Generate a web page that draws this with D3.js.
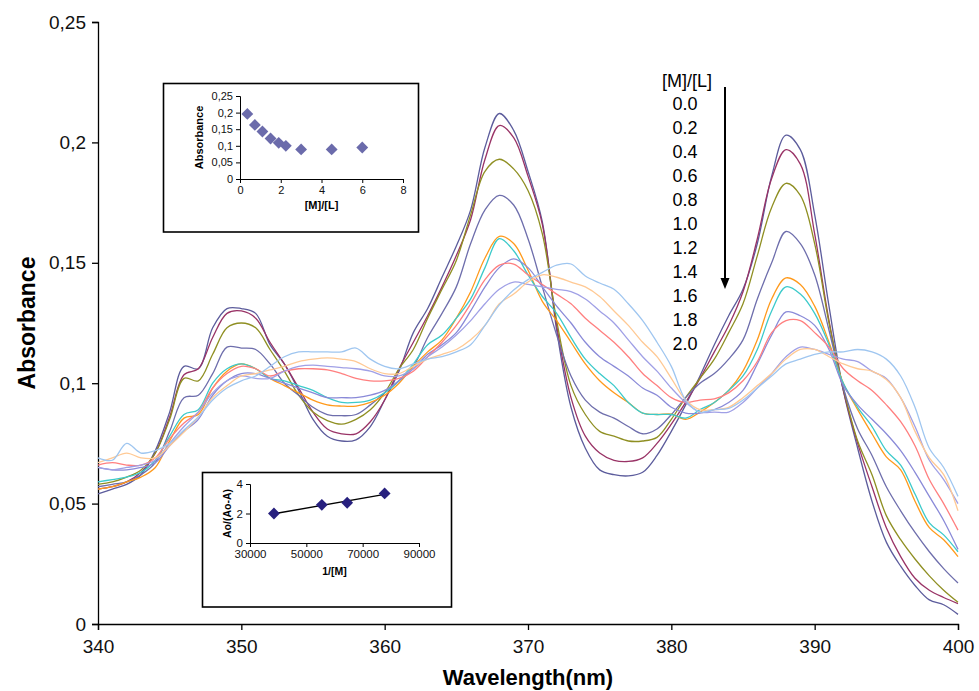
<!DOCTYPE html>
<html>
<head>
<meta charset="utf-8">
<script src="https://cdn.jsdelivr.net/npm/d3@7"></script>
<style>
  body { margin: 0; background: #fff; }
  svg { display: block; font-family: "Liberation Sans", Arial, sans-serif; }
</style>
</head>
<body>
<svg id="chart"></svg>
<script>
// wavelength grid (nm)
const wavelength = [340,341,342,343,344,345,346,347,348,349,350,351,352,353,354,355,356,357,358,359,
  360,361,362,363,364,365,366,367,368,369,370,371,372,373,374,375,376,377,378,379,
  380,381,382,383,384,385,386,387,388,389,390,391,392,393,394,395,396,397,398,399,400]

// absorbance per [M]/[L] ratio
const abs00 = [0.054,0.056,0.058,0.062,0.072,0.088,0.107,0.106,0.123,0.131,0.131,0.129,0.116,0.108,0.097,0.085,0.078,0.076,0.0765,0.082,
  0.093,0.105,0.121,0.131,0.144,0.157,0.172,0.198,0.212,0.205,0.188,0.167,0.122,0.090,0.073,0.064,0.062,0.0615,0.063,0.070,
  0.080,0.091,0.103,0.116,0.128,0.139,0.158,0.186,0.203,0.197,0.170,0.132,0.097,0.073,0.051,0.034,0.024,0.016,0.010,0.008,0.004]
const abs02 = [0.056,0.057,0.059,0.063,0.071,0.086,0.1035,0.106,0.119,0.129,0.130,0.127,0.117,0.108,0.098,0.088,0.081,0.079,0.079,0.084,
  0.093,0.106,0.117,0.128,0.140,0.153,0.168,0.193,0.207,0.202,0.186,0.166,0.124,0.094,0.078,0.071,0.068,0.0675,0.069,0.075,
  0.083,0.092,0.102,0.113,0.124,0.138,0.160,0.185,0.197,0.191,0.162,0.126,0.097,0.075,0.057,0.040,0.028,0.019,0.014,0.011,0.0085]
const abs04 = [0.058,0.059,0.061,0.064,0.071,0.085,0.102,0.101,0.112,0.123,0.125,0.123,0.114,0.105,0.095,0.088,0.0845,0.083,0.085,0.089,
  0.096,0.106,0.114,0.127,0.139,0.151,0.170,0.188,0.193,0.189,0.180,0.162,0.126,0.099,0.087,0.080,0.078,0.076,0.076,0.0775,
  0.085,0.094,0.102,0.110,0.121,0.133,0.153,0.173,0.183,0.178,0.158,0.125,0.098,0.076,0.062,0.045,0.035,0.027,0.020,0.014,0.009]
const abs06 = [0.057,0.058,0.059,0.062,0.067,0.080,0.094,0.095,0.104,0.115,0.1146,0.114,0.108,0.100,0.095,0.090,0.087,0.0865,0.087,0.091,
  0.096,0.101,0.107,0.119,0.129,0.140,0.158,0.172,0.178,0.174,0.160,0.140,0.120,0.103,0.093,0.088,0.0855,0.082,0.079,0.081,
  0.087,0.094,0.100,0.104,0.110,0.118,0.135,0.150,0.163,0.158,0.145,0.122,0.098,0.081,0.070,0.057,0.047,0.038,0.030,0.023,0.017]
const abs08 = [0.056,0.057,0.059,0.061,0.065,0.076,0.0855,0.087,0.098,0.105,0.108,0.106,0.102,0.099,0.096,0.093,0.091,0.0905,0.0905,0.092,
  0.095,0.100,0.107,0.113,0.118,0.127,0.138,0.152,0.161,0.158,0.147,0.134,0.126,0.117,0.108,0.101,0.096,0.092,0.0876,0.087,
  0.0872,0.085,0.088,0.092,0.097,0.105,0.118,0.135,0.1437,0.141,0.132,0.117,0.100,0.089,0.079,0.0694,0.064,0.051,0.040,0.035,0.028]
const abs10 = [0.059,0.060,0.061,0.063,0.068,0.078,0.087,0.089,0.100,0.106,0.108,0.106,0.102,0.101,0.099,0.097,0.094,0.092,0.092,0.093,
  0.096,0.101,0.108,0.116,0.120,0.127,0.135,0.148,0.160,0.155,0.145,0.136,0.129,0.119,0.110,0.104,0.099,0.092,0.0876,0.087,
  0.087,0.0855,0.089,0.092,0.097,0.103,0.114,0.130,0.140,0.137,0.129,0.116,0.100,0.090,0.082,0.072,0.066,0.054,0.042,0.037,0.030]
const abs12 = [0.065,0.064,0.064,0.065,0.067,0.074,0.080,0.085,0.095,0.101,0.104,0.104,0.102,0.100,0.098,0.096,0.094,0.094,0.094,0.095,
  0.097,0.101,0.106,0.112,0.116,0.121,0.130,0.140,0.148,0.1516,0.148,0.140,0.132,0.125,0.117,0.111,0.107,0.103,0.098,0.095,
  0.090,0.0876,0.0876,0.089,0.092,0.097,0.108,0.120,0.1296,0.128,0.124,0.114,0.099,0.091,0.085,0.079,0.072,0.063,0.053,0.043,0.031]
const abs14 = [0.066,0.067,0.066,0.066,0.069,0.077,0.0835,0.088,0.098,0.104,0.107,0.106,0.103,0.105,0.106,0.106,0.1055,0.104,0.102,0.101,
  0.101,0.102,0.105,0.111,0.117,0.124,0.133,0.143,0.149,0.1495,0.145,0.141,0.137,0.133,0.127,0.122,0.117,0.111,0.104,0.099,
  0.094,0.092,0.093,0.0935,0.096,0.101,0.109,0.121,0.126,0.126,0.121,0.115,0.106,0.101,0.097,0.091,0.084,0.074,0.060,0.050,0.039]
const abs16 = [0.065,0.064,0.065,0.066,0.068,0.075,0.082,0.088,0.096,0.101,0.103,0.102,0.102,0.105,0.107,0.1075,0.107,0.1065,0.106,0.105,
  0.103,0.103,0.106,0.111,0.115,0.120,0.126,0.133,0.139,0.142,0.141,0.140,0.139,0.138,0.135,0.130,0.125,0.118,0.111,0.105,
  0.098,0.092,0.088,0.088,0.088,0.092,0.098,0.104,0.111,0.115,0.114,0.112,0.110,0.109,0.105,0.102,0.094,0.082,0.068,0.060,0.050]
const abs18 = [0.067,0.069,0.071,0.069,0.069,0.074,0.0797,0.086,0.094,0.099,0.103,0.104,0.1055,0.107,0.109,0.110,0.1105,0.110,0.109,0.106,
  0.104,0.104,0.107,0.110,0.112,0.114,0.118,0.124,0.133,0.137,0.142,0.145,0.144,0.142,0.140,0.136,0.130,0.124,0.117,0.111,
  0.102,0.093,0.089,0.089,0.090,0.094,0.099,0.104,0.110,0.114,0.114,0.111,0.108,0.106,0.105,0.1015,0.094,0.080,0.069,0.062,0.047]
const abs20 = [0.069,0.068,0.075,0.071,0.072,0.075,0.0806,0.086,0.093,0.098,0.101,0.103,0.107,0.111,0.113,0.113,0.113,0.113,0.1146,0.110,
  0.107,0.106,0.108,0.110,0.111,0.113,0.116,0.124,0.1325,0.1387,0.143,0.146,0.149,0.1495,0.1445,0.1416,0.139,0.133,0.126,0.117,
  0.107,0.093,0.088,0.089,0.0895,0.093,0.098,0.103,0.108,0.110,0.112,0.113,0.113,0.114,0.113,0.110,0.103,0.090,0.073,0.065,0.053]

const ratioLabels = ["0.0","0.2","0.4","0.6","0.8","1.0","1.2","1.4","1.6","1.8","2.0"]
const seriesColors = ["#5c5c9c","#993366","#8f8f22","#6e6eac","#ff9a1c","#3ccaca","#8a8ad8","#ff7f7f","#a0a0e6","#ffc994","#9fc6f0"]
const yTicks = [0, 0.05, 0.1, 0.15, 0.2, 0.25]
const xTicks = [340, 350, 360, 370, 380, 390, 400]

// inset 1: absorbance vs [M]/[L]
const insetRatio = [0.36, 0.73, 1.1, 1.5, 1.9, 2.25, 3.0, 4.5, 6.0]
const insetAbs = [0.196, 0.163, 0.143, 0.122, 0.109, 0.100, 0.089, 0.089, 0.095]
// inset 2: Ao/(Ao-A) vs 1/[M]
const invM = [38500, 55500, 64500, 77800]
const aoRatio = [2.0, 2.59, 2.73, 3.36]

const series = [abs00, abs02, abs04, abs06, abs08, abs10, abs12, abs14, abs16, abs18, abs20]
  .map((values, i) => ({
    label: ratioLabels[i],
    color: seriesColors[i],
    points: values.map((v, j) => ({ w: wavelength[j], a: v })),
  }))

const dimensions = {
  width: 979,
  height: 691,
  margin: { top: 22, right: 21, bottom: 67, left: 98 },
}
dimensions.boundedWidth = dimensions.width - dimensions.margin.left - dimensions.margin.right
dimensions.boundedHeight = dimensions.height - dimensions.margin.top - dimensions.margin.bottom

const svg = d3.select("#chart")
  .attr("width", dimensions.width)
  .attr("height", dimensions.height)

const bounds = svg.append("g")
  .attr("transform", `translate(${dimensions.margin.left},${dimensions.margin.top})`)

const xScale = d3.scaleLinear()
  .domain([340, 400])
  .range([0, dimensions.boundedWidth])
const yScale = d3.scaleLinear()
  .domain([0, 0.25])
  .range([dimensions.boundedHeight, 0])

const commaFormat = d => d3.format(".2~f")(d).replace(".", ",")

const yAxis = bounds.append("g")
  .call(d3.axisLeft(yScale).tickValues(yTicks).tickSize(6).tickPadding(6).tickFormat(commaFormat))
const xAxis = bounds.append("g")
  .attr("transform", `translate(0,${dimensions.boundedHeight})`)
  .call(d3.axisBottom(xScale).tickValues(xTicks).tickSize(6).tickPadding(10).tickFormat(d3.format("d")))

;[xAxis, yAxis].forEach(ax => {
  ax.select(".domain").attr("stroke", "#000").attr("stroke-width", 1.3)
  ax.selectAll(".tick line").attr("stroke", "#000").attr("stroke-width", 1.3)
  ax.selectAll(".tick text")
    .attr("fill", "#111")
    .style("font-size", "19px")
    .style("font-family", "'Liberation Sans', Arial, sans-serif")
})

// spectra
const lineGen = d3.line()
  .x(d => xScale(d.w))
  .y(d => yScale(d.a))
  .curve(d3.curveCatmullRom.alpha(0.5))

bounds.append("g")
  .selectAll("path")
  .data(series)
  .join("path")
    .attr("fill", "none")
    .attr("stroke", d => d.color)
    .attr("stroke-width", 1.3)
    .attr("d", d => lineGen(d.points))

// axis titles
svg.append("text")
  .attr("transform", `translate(35,${dimensions.margin.top + dimensions.boundedHeight / 2}) rotate(-90)`)
  .attr("text-anchor", "middle")
  .style("font-size", "23px")
  .style("font-weight", "bold")
  .text("Absorbance")

svg.append("text")
  .attr("x", dimensions.margin.left + dimensions.boundedWidth / 2)
  .attr("y", 685)
  .attr("text-anchor", "middle")
  .style("font-size", "22px")
  .style("font-weight", "bold")
  .text("Wavelength(nm)")

// legend of ratios with arrow
const legend = svg.append("g")
legend.append("text")
  .attr("x", 687)
  .attr("y", 87)
  .attr("text-anchor", "middle")
  .style("font-size", "18px")
  .text("[M]/[L]")
legend.selectAll(".ratio")
  .data(ratioLabels)
  .join("text")
    .attr("class", "ratio")
    .attr("x", 685)
    .attr("y", (d, i) => 109.5 + i * 24)
    .attr("text-anchor", "middle")
    .style("font-size", "18px")
    .text(d => d)
legend.append("line")
  .attr("x1", 725).attr("x2", 725)
  .attr("y1", 87).attr("y2", 280)
  .attr("stroke", "#000")
  .attr("stroke-width", 2)
legend.append("path")
  .attr("d", "M720.5,278 L729.5,278 L725,289 Z")
  .attr("fill", "#000")

// small diamond marker
const diamond = d3.symbol().type(d3.symbolSquare).size(70)

function drawInset(box, plot, xDomain, yDomain, xTickVals, yTickVals, xFmt, yFmt, xLabel, yLabel, fontSize) {
  const g = svg.append("g")
  g.append("rect")
    .attr("x", box.x).attr("y", box.y)
    .attr("width", box.w).attr("height", box.h)
    .attr("fill", "#fff")
    .attr("stroke", "#000")
    .attr("stroke-width", 1.6)

  const x = d3.scaleLinear().domain(xDomain).range([plot.x0, plot.x1])
  const y = d3.scaleLinear().domain(yDomain).range([plot.y0, plot.y1])

  const ax = g.append("g")
    .attr("transform", `translate(0,${plot.y0})`)
    .call(d3.axisBottom(x).tickValues(xTickVals).tickSize(4).tickPadding(3).tickFormat(xFmt))
  const ay = g.append("g")
    .attr("transform", `translate(${plot.x0},0)`)
    .call(d3.axisLeft(y).tickValues(yTickVals).tickSize(4).tickPadding(3).tickFormat(yFmt))
  ;[ax, ay].forEach(a => {
    a.select(".domain").attr("stroke", "#000")
    a.selectAll(".tick line").attr("stroke", "#000")
    a.selectAll(".tick text")
      .attr("fill", "#111")
      .style("font-size", fontSize + "px")
      .style("font-family", "'Liberation Sans', Arial, sans-serif")
  })

  g.append("text")
    .attr("x", (plot.x0 + plot.x1) / 2 + xLabel.dx)
    .attr("y", xLabel.y)
    .attr("text-anchor", "middle")
    .style("font-size", xLabel.size + "px")
    .style("font-weight", "bold")
    .text(xLabel.text)
  g.append("text")
    .attr("transform", `translate(${yLabel.x},${(plot.y0 + plot.y1) / 2}) rotate(-90)`)
    .attr("text-anchor", "middle")
    .style("font-size", yLabel.size + "px")
    .style("font-weight", "bold")
    .text(yLabel.text)

  return { g, x, y }
}

// inset 1
const inset1 = drawInset(
  { x: 163.5, y: 83.5, w: 255, h: 148.5 },
  { x0: 240, x1: 403, y0: 179, y1: 96 },
  [0, 8], [0, 0.25], [0, 2, 4, 6, 8], yTicks,
  d3.format("d"), commaFormat,
  { text: "[M]/[L]", y: 209, dx: 0, size: 11 },
  { text: "Absorbance", x: 203, size: 11 },
  11
)
inset1.g.selectAll(".pt")
  .data(insetRatio.map((r, i) => ({ r, a: insetAbs[i] })))
  .join("path")
    .attr("class", "pt")
    .attr("d", diamond)
    .attr("transform", d => `translate(${inset1.x(d.r)},${inset1.y(d.a)}) rotate(45)`)
    .attr("fill", "#6b6bab")

// inset 2
const inset2 = drawInset(
  { x: 202.5, y: 472.5, w: 249, h: 134.5 },
  { x0: 250, x1: 419, y0: 543, y1: 484 },
  [30000, 90000], [0, 4], [30000, 50000, 70000, 90000], [0, 2, 4],
  d3.format("d"), d3.format("d"),
  { text: "1/[M]", y: 575, dx: 0, size: 10.5 },
  { text: "Ao/(Ao-A)", x: 231, size: 10.5 },
  11.5
)
const pts2 = invM.map((m, i) => ({ m, r: aoRatio[i] }))
const mx = d3.mean(invM), my = d3.mean(aoRatio)
const slope = d3.sum(pts2, d => (d.m - mx) * (d.r - my)) / d3.sum(pts2, d => (d.m - mx) ** 2)
const intercept = my - slope * mx
const ext = d3.extent(invM)
inset2.g.append("line")
  .attr("x1", inset2.x(ext[0])).attr("y1", inset2.y(intercept + slope * ext[0]))
  .attr("x2", inset2.x(ext[1])).attr("y2", inset2.y(intercept + slope * ext[1]))
  .attr("stroke", "#000")
  .attr("stroke-width", 1.4)
inset2.g.selectAll(".pt")
  .data(pts2)
  .join("path")
    .attr("class", "pt")
    .attr("d", diamond)
    .attr("transform", d => `translate(${inset2.x(d.m)},${inset2.y(d.r)}) rotate(45)`)
    .attr("fill", "#27207e")
</script>
</body>
</html>
